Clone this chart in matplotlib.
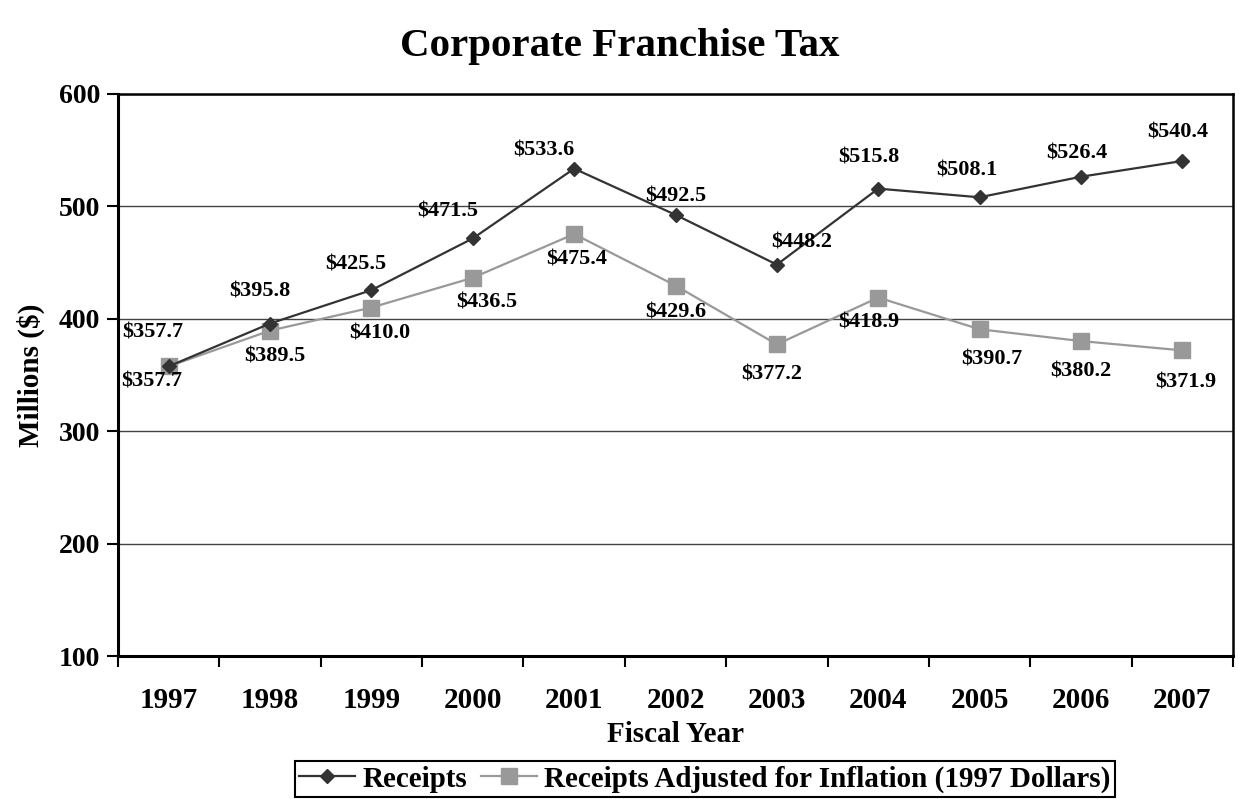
import numpy as np
import matplotlib
matplotlib.use('Agg')
import matplotlib.pyplot as plt
from matplotlib.lines import Line2D

years = ['1997', '1998', '1999', '2000', '2001', '2002', '2003', '2004', '2005', '2006', '2007']
receipts = [357.7, 395.8, 425.5, 471.5, 533.6, 492.5, 448.2, 515.8, 508.1, 526.4, 540.4]
adjusted = [357.7, 389.5, 410.0, 436.5, 475.4, 429.6, 377.2, 418.9, 390.7, 380.2, 371.9]

# label offsets in pixels (dx, dy)
rec_off = [(-16, 34), (-10, 32), (-16, 26), (-25, 27), (-30, 18), (0, 18),
           (25, 22), (-9, 31), (-13, 27), (-4, 23), (-5, 28)]
adj_off = [(-17, -15), (5, -26), (8, -26), (14, -25), (2, -25), (0, -27),
           (-5, -30), (-9, -25), (12, -30), (0, -30), (3, -32)]

plt.rcParams['font.family'] = ['Liberation Serif', 'DejaVu Serif']
plt.rcParams['font.weight'] = 'bold'

fig = plt.figure(figsize=(12.39, 7.99), dpi=100)
ax = fig.add_axes([118 / 1239, 1 - 656 / 799, (1233 - 118) / 1239, (656 - 94) / 799])

x = np.arange(len(years))
c_rec = '#333333'
c_adj = '#999999'
ax.plot(x, receipts, color=c_rec, lw=1.6, marker='D', ms=7, zorder=4)
ax.plot(x, adjusted, color=c_adj, lw=1.6, marker='s', ms=11, zorder=3)

for i in range(len(years)):
    ax.annotate('$%.1f' % receipts[i], (x[i], receipts[i]), xytext=rec_off[i],
                textcoords='offset pixels', ha='center', va='center',
                fontsize=16, fontweight='bold', zorder=5)
    ax.annotate('$%.1f' % adjusted[i], (x[i], adjusted[i]), xytext=adj_off[i],
                textcoords='offset pixels', ha='center', va='center',
                fontsize=16, fontweight='bold', zorder=5)

ax.set_xlim(-0.5, len(years) - 0.5)
ax.set_ylim(100, 600)
ax.set_yticks([100, 200, 300, 400, 500, 600])
ax.yaxis.grid(True, color='#444444', lw=1.0)
ax.set_axisbelow(True)

ax.set_xticks(np.arange(-0.5, len(years), 1.0))
ax.set_xticklabels([])
ax.set_xticks(x, minor=True)
ax.set_xticklabels(years, minor=True)
ax.tick_params(axis='x', which='major', length=8, width=1.5, direction='out')
ax.tick_params(axis='x', which='minor', length=0, pad=22, labelsize=21)
ax.tick_params(axis='y', length=8, width=1.5, direction='out', pad=5, labelsize=20)
for lab in ax.get_xticklabels(minor=True) + ax.get_yticklabels():
    lab.set_fontweight('bold')

for s in ['left', 'bottom']:
    ax.spines[s].set_linewidth(2.2)
for s in ['top', 'right']:
    ax.spines[s].set_linewidth(1.8)

ax.set_xlabel('Fiscal Year', fontsize=21, fontweight='bold', labelpad=5)
ax.set_ylabel('Millions ($)', fontsize=21, fontweight='bold', labelpad=10)
fig.suptitle('Corporate Franchise Tax', fontsize=29.5, fontweight='bold', y=0.965)

handles = [Line2D([], [], color=c_rec, lw=1.6, marker='D', ms=7),
           Line2D([], [], color=c_adj, lw=1.6, marker='s', ms=11)]
leg = fig.legend(handles, ['Receipts', 'Receipts Adjusted for Inflation (1997 Dollars)'],
                 loc='lower center', bbox_to_anchor=(705 / 1239, 0.002), ncol=2,
                 fancybox=False, framealpha=1, edgecolor='black',
                 prop={'size': 21, 'weight': 'bold'}, handlelength=1.9,
                 columnspacing=0.5, handletextpad=0.25, borderpad=0.15,
                 borderaxespad=0.0)
leg.get_frame().set_linewidth(1.5)

fig.savefig('out.png', dpi=100)
